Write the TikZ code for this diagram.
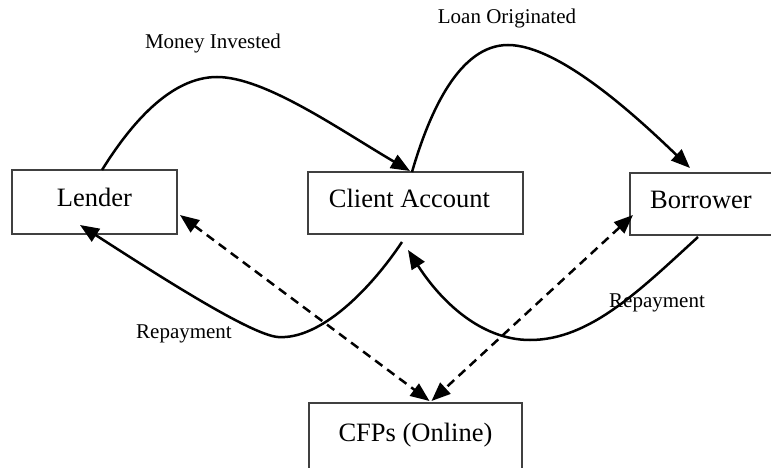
\documentclass[tikz,border=0pt]{standalone}
\usepackage{fontspec}
\setmainfont{Liberation Serif}
\usetikzlibrary{arrows.meta}
\begin{document}
\begin{tikzpicture}[x=1pt,y=-1pt,
  boxnode/.style={draw=black!75, line width=1.5pt, rectangle, inner sep=0pt, outer sep=0pt,
    font=\fontsize{26.5}{30}\selectfont, text height=18pt, text depth=10pt},
  flow/.style={line width=2.5pt, -{Triangle[length=19pt,width=15pt]}},
  dashflow/.style={line width=2.5pt, dash pattern=on 9pt off 6pt,
    {Triangle[length=19pt,width=15pt]}-{Triangle[length=19pt,width=15pt]}},
  lbl/.style={font=\fontsize{21}{24}\selectfont, anchor=base}]
\useasboundingbox (0,0) rectangle (771,468);
\clip (0,0) rectangle (771,468);

\node[boxnode, minimum width=165pt, minimum height=64pt] (lender) at (94.5,202) {Lender};
\node[boxnode, minimum width=215pt, minimum height=62pt,
  label={[font=\fontsize{26.5}{30}\selectfont, text height=18pt, text depth=10pt, xshift=-6pt]center:Client Account}] (client) at (415.5,203) {};
\node[boxnode, minimum width=200pt, minimum height=62pt,
  label={[font=\fontsize{26.5}{30}\selectfont, text height=18pt, text depth=10pt, xshift=-29pt]center:Borrower}] (borrower) at (730,204) {};
\node[boxnode, minimum width=213pt, minimum height=68pt] (cfp) at (415.5,437) {CFPs (Online)};

\node[lbl] (lmoney) at (213,49) {Money Invested};
\node[lbl] (lloan) at (507,24) {Loan Originated};
\node[lbl] (lrep1) at (184,338) {Repayment};
\node[lbl] (lrep2) at (657,307) {Repayment};

% Money invested
\draw[flow] ([xshift=90pt]lender.north west) .. controls (130,125) and (170,77) .. (217,77)
  .. controls (265,77) and (340,130) .. ([xshift=102pt,yshift=1pt]client.north west);
% Loan originated
\draw[flow] ([xshift=104pt]client.north west) .. controls (430,110) and (460,45) .. (508,45)
  .. controls (560,45) and (640,120) .. ([xshift=60pt,yshift=5pt]borrower.north west);
% Repayment to lender
\draw[flow] ([xshift=94pt,yshift=-8pt]client.south west) .. controls (370,290) and (320,340) .. (278,337)
  .. controls (250,335) and (150,270) .. ([xshift=68pt,yshift=9pt]lender.south west);
% Repayment from borrower
\draw[flow] ([xshift=68pt,yshift=-2pt]borrower.south west) .. controls (640,290) and (590,340) .. (530,340)
  .. controls (480,340) and (440,300) .. ([xshift=100pt,yshift=-16pt]client.south west);
% Dashed links
\draw[dashflow] ([xshift=3pt,yshift=-13pt]lender.east) -- ([xshift=14pt,yshift=2pt]cfp.north);
\draw[dashflow] ([xshift=3pt,yshift=-11pt]borrower.west) -- ([xshift=16pt,yshift=2pt]cfp.north);
\end{tikzpicture}
\end{document}
